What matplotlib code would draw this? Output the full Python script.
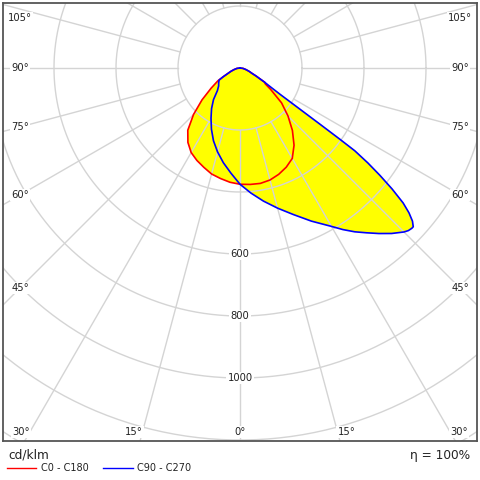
import numpy as np
import matplotlib
matplotlib.use('Agg')
import matplotlib.pyplot as plt
from matplotlib.lines import Line2D

# gamma angles from nadir (negative = left half), values in cd/klm
red_ang = [-90, -82.5, -75, -70, -66, -62.5, -60, -55, -50, -45, -40, -35, -30, -25, -20, -15, -10, -5, 0,
           5, 10, 15, 20, 25, 30, 35, 40, 45, 50, 55, 58, 60, 61.5, 63.5, 66, 70, 75, 82.5, 90]
red_val = [0, 10, 20, 31, 42, 61, 82, 114, 160, 212, 262, 293, 315, 329, 341, 354, 362, 370, 375,
           377, 378, 374, 365, 353, 337, 304, 263, 219, 175, 121, 96, 92, 73, 58, 42, 31, 20, 10, 0]

blue_ang = [-90, -82.5, -75, -70, -66, -62.5, -60, -55, -50, -45, -40, -35, -30, -25, -20, -15, -10, -5, 0,
            5, 10, 15, 20, 25, 30, 32.5, 35, 37.5, 40, 42.5, 45, 46, 47, 47.5, 48.4, 49.4, 50.4, 51.5, 52.5,
            53.4, 54.2, 54.5, 54.9, 55.5, 56.7, 58, 59, 60, 61.5, 63.5, 66, 70, 75, 82.5, 90]
blue_val = [0, 10, 20, 31, 42, 61, 78, 84, 90, 103, 133, 160, 187, 218, 250, 280, 310, 340, 375,
            405, 436, 468, 503, 545, 590, 618, 645, 670, 697, 724, 748, 755, 758, 758, 744, 718, 683, 627, 569,
            514, 457, 396, 316, 235, 155, 120, 103, 92, 73, 58, 42, 31, 20, 10, 0]

rings = [200, 400, 600, 800, 1000, 1200, 1400]
ring_labels = [600, 800, 1000]
angle_labels = [0, 15, 30, 45, 60, 75, 90, 105]

GRID = '#d4d4d4'
TXT = '#222222'


def to_xy(ang, val):
    a = np.radians(ang)
    v = np.asarray(val, dtype=float)
    return v * np.sin(a), -v * np.cos(a)


fig = plt.figure(figsize=(4.8, 4.8), dpi=100)
ax = fig.add_axes([3 / 480, 39 / 480, 474 / 480, 438 / 480])
ax.set_xlim(-764.5, 764.5)
ax.set_ylim(-1203.2, 209.7)
ax.set_xticks([])
ax.set_yticks([])
for s in ax.spines.values():
    s.set_color('#555555')
    s.set_linewidth(1.3)

rx, ry = to_xy(red_ang, red_val)
bx, by = to_xy(blue_ang, blue_val)
ax.fill(rx, ry, color='#ffff00', lw=0, zorder=1)
ax.fill(bx, by, color='#ffff00', lw=0, zorder=1)

# grid
t = np.linspace(0, 2 * np.pi, 400)
for r in rings:
    ax.plot(r * np.cos(t), r * np.sin(t), color=GRID, lw=1, zorder=2)
for a in range(0, 360, 15):
    ar = np.radians(a)
    ax.plot([200 * np.sin(ar), 3000 * np.sin(ar)], [-200 * np.cos(ar), -3000 * np.cos(ar)],
            color=GRID, lw=1, zorder=2)

ax.plot(rx, ry, color='#ff0000', lw=1.2, zorder=3)
ax.plot(bx, by, color='#0000ff', lw=1.2, zorder=4)

box = dict(boxstyle='square,pad=0.12', fc='white', ec='none')
for r in ring_labels:
    ax.text(0, -r, str(r), ha='center', va='center', fontsize=7.2, color=TXT, bbox=box, zorder=5)

side_x = 709.7
bottom_y = -1174
top_y = 161
for g in angle_labels:
    sides = [1] if g == 0 else [-1, 1]
    for sd in sides:
        gr = np.radians(g)
        if g >= 45:
            x = sd * side_x
            y = min(-side_x / np.tan(gr), top_y)
            ha = 'center'
        else:
            x = sd * abs(bottom_y) * np.tan(gr)
            y = bottom_y
            ha = 'center' if g == 0 else ('left' if sd > 0 else 'right')
        ax.text(x, y, f'{g}°', ha=ha, va='center', fontsize=7.2, color=TXT, bbox=box, zorder=5)

# bottom legend
fig.text(8 / 480, 1 - 455 / 480, 'cd/klm', ha='left', va='center', fontsize=8.7, color=TXT)
fig.text(470 / 480, 1 - 455 / 480, 'η = 100%', ha='right', va='center', fontsize=8.7, color=TXT)
ly = 1 - 468 / 480
fig.add_artist(Line2D([7 / 480, 36 / 480], [ly, ly], color='#ff0000', lw=1, transform=fig.transFigure))
fig.text(41 / 480, ly, 'C0 - C180', ha='left', va='center', fontsize=7, color=TXT)
fig.add_artist(Line2D([103 / 480, 133 / 480], [ly, ly], color='#0000ff', lw=1, transform=fig.transFigure))
fig.text(137 / 480, ly, 'C90 - C270', ha='left', va='center', fontsize=7, color=TXT)

fig.savefig('out.png', dpi=100)
